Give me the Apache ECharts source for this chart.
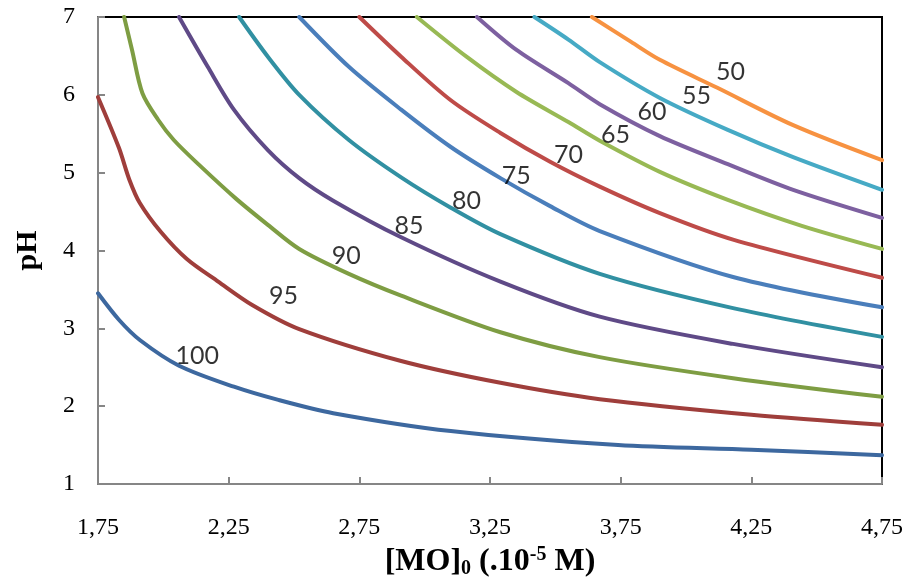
<!DOCTYPE html>
<html>
<head>
<meta charset="utf-8">
<title>pH vs [MO]0</title>
<script src="https://cdn.jsdelivr.net/npm/echarts@6/dist/echarts.min.js"></script>
<style>
  html, body { margin: 0; padding: 0; background: #ffffff; }
  #chart { width: 909px; height: 578px; }
</style>
</head>
<body>
<div id="chart"></div>
<script>
// Iso-efficiency curves: pH against initial MO concentration (10^-5 M)
const levels = ['100', '95', '90', '85', '80', '75', '70', '65', '60', '55', '50'];

const curve100 = [[1.75,3.45],[1.83,3.11],[1.91,2.85],[2.06,2.52],[2.27,2.25],[2.44,2.08],[2.65,1.91],[3.10,1.68],[3.74,1.50],[4.25,1.44],[4.75,1.37]];
const curve95  = [[1.75,5.97],[1.83,5.32],[1.87,4.91],[1.91,4.61],[1.99,4.24],[2.09,3.89],[2.21,3.60],[2.34,3.30],[2.52,2.99],[2.91,2.58],[3.29,2.30],[3.67,2.09],[4.25,1.89],[4.75,1.76]];
const curve90  = [[1.85,7.00],[1.88,6.58],[1.92,6.02],[1.98,5.68],[2.04,5.42],[2.14,5.09],[2.28,4.66],[2.40,4.33],[2.52,4.02],[2.71,3.70],[2.91,3.42],[3.29,2.95],[3.67,2.63],[4.18,2.36],[4.75,2.12]];
const curve85  = [[2.06,7.00],[2.17,6.36],[2.27,5.81],[2.40,5.29],[2.52,4.93],[2.65,4.64],[2.91,4.17],[3.29,3.60],[3.67,3.15],[4.18,2.80],[4.75,2.50]];
const curve80  = [[2.29,7.00],[2.40,6.49],[2.52,6.00],[2.71,5.42],[2.91,4.94],[3.10,4.55],[3.29,4.21],[3.67,3.70],[4.18,3.26],[4.75,2.89]];
const curve75  = [[2.52,7.00],[2.71,6.36],[2.91,5.81],[3.10,5.33],[3.29,4.93],[3.48,4.57],[3.67,4.25],[4.18,3.66],[4.75,3.27]];
const curve70  = [[2.75,7.00],[2.91,6.49],[3.10,5.93],[3.29,5.51],[3.48,5.14],[3.67,4.82],[3.90,4.48],[4.18,4.14],[4.75,3.65]];
const curve65  = [[2.97,7.00],[3.16,6.49],[3.35,6.04],[3.55,5.65],[3.67,5.41],[3.90,5.01],[4.16,4.65],[4.44,4.32],[4.75,4.02]];
const curve60  = [[3.20,7.00],[3.35,6.58],[3.55,6.15],[3.67,5.88],[3.90,5.47],[4.16,5.11],[4.41,4.78],[4.75,4.42]];
const curve55  = [[3.42,7.00],[3.55,6.71],[3.67,6.42],[3.90,5.96],[4.16,5.55],[4.41,5.20],[4.75,4.78]];
const curve50  = [[3.64,7.00],[3.79,6.68],[3.90,6.45],[4.12,6.09],[4.41,5.61],[4.75,5.16]];

// Where each level's number is written (data units)
const labelAnchors = [[2.13,2.65],[2.46,3.42],[2.70,3.93],[2.94,4.32],[3.16,4.64],[3.35,4.96],[3.55,5.23],[3.73,5.48],[3.87,5.78],[4.04,5.99],[4.17,6.29]];

const curves = [curve100, curve95, curve90, curve85, curve80, curve75, curve70, curve65, curve60, curve55, curve50];
const colors = ['#3D689F', '#9F3E3B', '#7E9D43', '#5F4A87', '#3190A2', '#4A7EBB',
                '#BE4B48', '#98B954', '#7D60A0', '#46AAC5', '#F79241'];

const serif = '"Liberation Serif", "Times New Roman", serif';

const lineSeries = curves.map((pts, i) => ({
  type: 'line',
  name: levels[i],
  data: pts,
  smooth: 0.3,
  showSymbol: false,
  symbol: 'none',
  clip: true,
  lineStyle: { color: colors[i], width: 4, cap: 'round', join: 'round' },
  emphasis: { disabled: true },
  z: 2
}));

const labelSeries = {
  type: 'scatter',
  data: labelAnchors.map((p, i) => ({ value: p, name: levels[i] })),
  symbolSize: 0,
  silent: true,
  label: {
    show: true,
    position: 'inside',
    formatter: p => p.name,
    fontFamily: 'Lato, "Open Sans", sans-serif',
    fontSize: 25,
    color: '#000'
  },
  z: 5
};

const chart = echarts.init(document.getElementById('chart'), null, { renderer: 'canvas' });
chart.setOption({
  animation: false,
  backgroundColor: '#ffffff',
  grid: {
    left: 98, right: 27, top: 17, bottom: 94,
    containLabel: false,
    outerBoundsMode: 'none',
    show: true,
    borderColor: '#000000',
    borderWidth: 2,
    backgroundColor: 'transparent'
  },
  xAxis: {
    type: 'value',
    min: 1.75,
    max: 4.75,
    interval: 0.5,
    splitLine: { show: false },
    axisLine: { show: true, lineStyle: { color: '#868686', width: 2 } },
    axisTick: { show: true, inside: true, length: 7, lineStyle: { color: '#868686', width: 2 } },
    axisLabel: {
      margin: 32,
      fontFamily: serif,
      fontSize: 24,
      color: '#000',
      formatter: v => v.toFixed(2).replace('.', ',')
    },
    name: '{b|[MO]}{sub|0}{b| (.10}{sup|-5}{b| M)}',
    nameLocation: 'middle',
    nameGap: 55,
    nameTextStyle: {
      rich: {
        b: { fontFamily: serif, fontWeight: 'bold', fontSize: 32, color: '#000', lineHeight: 34, verticalAlign: 'middle' },
        sub: { fontFamily: serif, fontWeight: 'bold', fontSize: 20, color: '#000', lineHeight: 34, verticalAlign: 'bottom' },
        sup: { fontFamily: serif, fontWeight: 'bold', fontSize: 20, color: '#000', lineHeight: 34, verticalAlign: 'top' }
      }
    }
  },
  yAxis: {
    type: 'value',
    min: 1,
    max: 7,
    interval: 1,
    splitLine: { show: false },
    axisLine: { show: true, lineStyle: { color: '#868686', width: 2 } },
    axisTick: { show: true, inside: true, length: 7, lineStyle: { color: '#868686', width: 2 } },
    axisLabel: { margin: 23, fontFamily: serif, fontSize: 24, color: '#000' },
    name: 'pH',
    nameLocation: 'middle',
    nameRotate: 90,
    nameGap: 55,
    nameTextStyle: { fontFamily: serif, fontWeight: 'bold', fontSize: 30, color: '#000' }
  },
  series: [...lineSeries, labelSeries]
});
</script>
</body>
</html>
